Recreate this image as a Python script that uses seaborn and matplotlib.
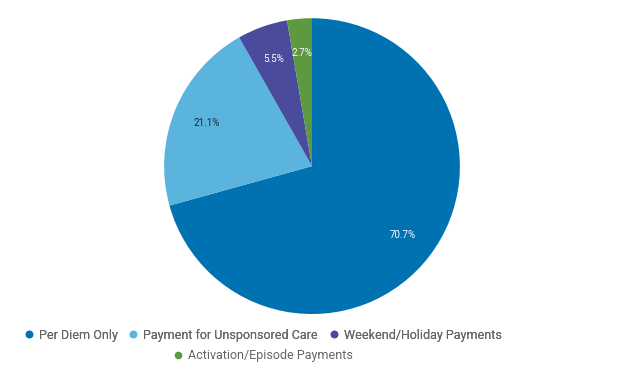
import matplotlib.pyplot as plt
import seaborn as sns
from matplotlib.lines import Line2D

categories = ["Per Diem Only", "Payment for Unsponsored Care",
              "Weekend/Holiday Payments", "Activation/Episode Payments"]
shares = [70.7, 21.1, 5.5, 2.7]
colors = ["#0071b1", "#5ab4de", "#4a4b9d", "#5c9940"]
label_colors = ["white", "#1a2a3a", "white", "white"]

sns.set_theme(style="white")
plt.rcParams["font.family"] = ["Roboto", "DejaVu Sans"]

fig = plt.figure(figsize=(6.24, 3.85), dpi=100)
ax = fig.add_axes([0.263, 0.184, 0.474, 0.769])

wedges, texts, autotexts = ax.pie(
    shares, colors=colors, startangle=90, counterclock=False,
    autopct="%.1f%%", pctdistance=0.77,
    wedgeprops=dict(linewidth=0), textprops=dict(fontsize=7))
for t, c in zip(autotexts, label_colors):
    t.set_color(c)
ax.set_xlim(-1, 1)
ax.set_ylim(-1, 1)
ax.set_aspect("equal")

handles = [Line2D([0], [0], marker="o", linestyle="", markersize=5.5,
                  markerfacecolor=c, markeredgewidth=0) for c in colors]

opts = dict(loc="center", frameon=False, fontsize=9, handlelength=0.7,
            handletextpad=0.45, columnspacing=0.9, labelcolor="#666666",
            borderpad=0, borderaxespad=0)
leg1 = fig.legend(handles[:3], categories[:3], ncol=3,
                  bbox_to_anchor=(263 / 624, 1 - 335 / 385), **opts)
leg2 = fig.legend(handles[3:], categories[3:], ncol=1,
                  bbox_to_anchor=(263 / 624, 1 - 356 / 385), **opts)
fig.add_artist(leg1)

fig.savefig("out.png", dpi=100)
